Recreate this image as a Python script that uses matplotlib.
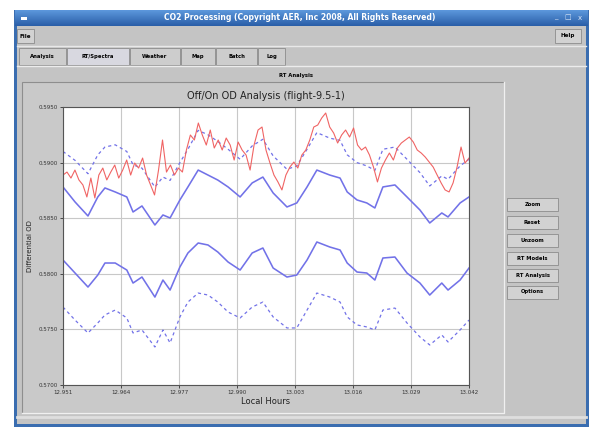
import numpy as np
import matplotlib
matplotlib.use("Agg")
import matplotlib.pyplot as plt
from matplotlib.patches import Rectangle
from matplotlib.colors import LinearSegmentedColormap

# ---- data (local hours / differential OD) ----
t_blue = [12.9510, 12.9537, 12.9566, 12.9588, 12.9604, 12.9627, 12.9653, 12.9667,
          12.9687, 12.9716, 12.9734, 12.9750, 12.9772, 12.9790, 12.9813, 12.9835,
          12.9857, 12.9880, 12.9907, 12.9934, 12.9958, 12.9981, 13.0012, 13.0034,
          13.0057, 13.0079, 13.0108, 13.0131, 13.0147, 13.0169, 13.0191, 13.0209,
          13.0227, 13.0254, 13.0281, 13.0310, 13.0332, 13.0359, 13.0373, 13.0400,
          13.0420]

off_upper = [0.58781, 0.58646, 0.58520, 0.58691, 0.58772, 0.58736, 0.58691, 0.58556,
             0.58610, 0.58439, 0.58529, 0.58502, 0.58664, 0.58781, 0.58933, 0.58888,
             0.58843, 0.58781, 0.58691, 0.58817, 0.58870, 0.58727, 0.58601, 0.58637,
             0.58781, 0.58933, 0.58888, 0.58861, 0.58736, 0.58664, 0.58637, 0.58592,
             0.58781, 0.58799, 0.58691, 0.58574, 0.58457, 0.58547, 0.58511, 0.58637,
             0.58691]

off_lower = [0.58124, 0.58007, 0.57881, 0.57989, 0.58097, 0.58097, 0.58034, 0.57917,
             0.57971, 0.57791, 0.57944, 0.57854, 0.58061, 0.58187, 0.58277, 0.58259,
             0.58196, 0.58106, 0.58034, 0.58187, 0.58232, 0.58052, 0.57971, 0.57989,
             0.58124, 0.58286, 0.58241, 0.58214, 0.58097, 0.58016, 0.58007, 0.57944,
             0.58142, 0.58151, 0.58007, 0.57917, 0.57809, 0.57917, 0.57854, 0.57944,
             0.58052]

on_upper = [0.5910, 0.5902, 0.5890, 0.5907, 0.5914, 0.5916, 0.5910, 0.5898,
            0.5895, 0.5878, 0.5887, 0.5884, 0.5900, 0.5912, 0.5929, 0.5925,
            0.5919, 0.5912, 0.5903, 0.5915, 0.5921, 0.5906, 0.5894, 0.5897,
            0.5912, 0.5927, 0.5922, 0.5920, 0.5907, 0.5900, 0.5897, 0.5893,
            0.5912, 0.5914, 0.5903, 0.5891, 0.5879, 0.5888, 0.5885, 0.5897,
            0.5903]

on_lower = [0.57701, 0.57584, 0.57468, 0.57558, 0.57630, 0.57674, 0.57603, 0.57468,
            0.57495, 0.57342, 0.57495, 0.57378, 0.57612, 0.57746, 0.57827, 0.57809,
            0.57746, 0.57656, 0.57603, 0.57701, 0.57746, 0.57612, 0.57513, 0.57513,
            0.57674, 0.57827, 0.57791, 0.57746, 0.57612, 0.57540, 0.57522, 0.57495,
            0.57674, 0.57692, 0.57558, 0.57432, 0.57360, 0.57450, 0.57387, 0.57495,
            0.57584]

measured = [0.58888, 0.58915, 0.58861, 0.58933, 0.58844, 0.58799, 0.58691, 0.58861,
            0.58682, 0.58888, 0.58951, 0.58844, 0.58915, 0.58978, 0.58861, 0.58933,
            0.59023, 0.58888, 0.58996, 0.58951, 0.59041, 0.58888, 0.58799, 0.58709,
            0.58933, 0.59203, 0.58915, 0.58978, 0.58888, 0.58951, 0.58915, 0.59113,
            0.59248, 0.59203, 0.59356, 0.59248, 0.59158, 0.59293, 0.59131, 0.59203,
            0.59113, 0.59221, 0.59158, 0.59023, 0.59185, 0.59113, 0.59068, 0.58933,
            0.59158, 0.59293, 0.59320, 0.59113, 0.58996, 0.58888, 0.58826, 0.58754,
            0.58888, 0.58960, 0.59005, 0.58951, 0.59068, 0.59113, 0.59203, 0.59320,
            0.59338, 0.59401, 0.59446, 0.59320, 0.59266, 0.59176, 0.59248, 0.59293,
            0.59230, 0.59311, 0.59158, 0.59113, 0.59140, 0.59068, 0.58960, 0.58826,
            0.58951, 0.59023, 0.59086, 0.59023, 0.59131, 0.59176, 0.59203, 0.59230,
            0.59185, 0.59113, 0.59086, 0.59050, 0.59005, 0.58960, 0.58888, 0.58817,
            0.58754, 0.58736, 0.58817, 0.58960, 0.59140, 0.58996, 0.59041]
t_red = np.linspace(12.951, 13.042, len(measured))

xticks = [12.951, 12.964, 12.977, 12.990, 13.003, 13.016, 13.029, 13.042]
yticks = [0.570, 0.575, 0.580, 0.585, 0.590, 0.595]

tabs = ["Analysis", "RT/Spectra", "Weather", "Map", "Batch", "Log"]
tab_x = [(19, 66), (67, 129), (130, 180), (181, 215), (216, 257), (258, 285)]
buttons = ["Zoom", "Reset", "Unzoom", "RT Models", "RT Analysis", "Options"]
button_y = [204, 222, 240, 258, 275, 292]

blue = "#7272e8"
red = "#f06464"
gray = "#c4c4c4"

fig = plt.figure(figsize=(5.93, 4.32), dpi=100)
fig.patch.set_facecolor("white")

# background axes in pixel coordinates for the window chrome
bg = fig.add_axes([0, 0, 1, 1])


def box(x0, y0, x1, y1, fc, ec="none", lw=0.8, z=1):
    bg.add_patch(Rectangle((x0, y0), x1 - x0, y1 - y0, facecolor=fc,
                           edgecolor=ec, linewidth=lw, zorder=z))


# window frame and body
box(14, 10, 589, 427, "#3a6db0")
box(17, 26, 586, 424, gray, z=2)

# title bar gradient
grad = np.linspace(0, 1, 32).reshape(-1, 1)
cm = LinearSegmentedColormap.from_list("tb", ["#5c98dc", "#2a5ea8"])
bg.imshow(grad, extent=(15, 588, 26, 10), aspect="auto", cmap=cm, zorder=3)
bg.text(300, 18, "CO2 Processing (Copyright AER, Inc 2008, All Rights Reserved)",
        ha="center", va="center", color="white", fontsize=5.5,
        fontweight="bold", zorder=4)
box(21, 17, 27, 19.5, "white", z=4)
for i, s in enumerate(["_", "\u25a1", "x"]):
    bg.text(556 + i * 12, 17.5, s, ha="center", va="center", color="#dce8f8",
            fontsize=5, zorder=4)

# menu bar
box(17, 29, 34, 43, "#d2d2d2", "#8c8c8c", 0.6, z=3)
bg.text(25.5, 36, "File", ha="center", va="center", fontsize=4,
        fontweight="bold", zorder=4)
box(555, 29, 581, 43, "#d2d2d2", "#8c8c8c", 0.6, z=3)
bg.text(568, 36, "Help", ha="center", va="center", fontsize=4,
        fontweight="bold", zorder=4)
bg.plot([17, 586], [46, 46], color="#e8e8e8", lw=1, zorder=3)

# tabs
for name, (x0, x1) in zip(tabs, tab_x):
    fc = "#d8d8e0" if name == "RT/Spectra" else "#cdcdcd"
    box(x0, 48, x1, 65, fc, "#8c8c8c", 0.6, z=3)
    bg.text((x0 + x1) / 2, 56.5, name, ha="center", va="center", fontsize=3.8,
            fontweight="bold", zorder=4)
bg.plot([17, 586], [65.5, 65.5], color="#ececec", lw=1, zorder=3)

bg.text(296, 75, "RT Analysis", ha="center", va="center", fontsize=3.8,
        fontweight="bold", zorder=4)

# plot panel
box(22, 82, 504, 413, "#c9c9c9", "#8e8e8e", 0.8, z=3)
bg.plot([504, 504, 22], [82, 413, 413], color="#f0f0f0", lw=1, zorder=4)
bg.plot([17, 586], [417, 417], color="#dedede", lw=2, zorder=3)

# right hand buttons
for name, yc in zip(buttons, button_y):
    box(507, yc - 6.5, 558, yc + 6.5, "#d2d2d2", "#8c8c8c", 0.6, z=3)
    bg.text(532.5, yc, name, ha="center", va="center", fontsize=3.8,
            fontweight="bold", zorder=4)

bg.set_xlim(0, 593)
bg.set_ylim(432, 0)
bg.axis("off")

# ---- the chart ----
ax = fig.add_axes([63 / 593, (432 - 385) / 432, 406 / 593, 278 / 432])
ax.set_facecolor("white")
ax.plot(t_blue, on_upper, color=blue, lw=0.9, ls=(0, (2.5, 2.5)))
ax.plot(t_blue, off_upper, color=blue, lw=1.15)
ax.plot(t_blue, off_lower, color=blue, lw=1.15)
ax.plot(t_blue, on_lower, color=blue, lw=0.9, ls=(0, (2.5, 2.5)))
ax.plot(t_red, measured, color=red, lw=0.8)

ax.set_xlim(xticks[0], xticks[-1])
ax.set_ylim(yticks[0], yticks[-1])
ax.set_xticks(xticks)
ax.set_xticklabels(["%.3f" % v for v in xticks])
ax.set_yticks(yticks)
ax.set_yticklabels(["%.4f" % v for v in yticks])
ax.tick_params(labelsize=4, length=2, width=0.6, pad=1.5, colors="#333333")
ax.grid(True, color="#c8c8c8", lw=0.8)
for s in ax.spines.values():
    s.set_color("#555555")
    s.set_linewidth(0.8)

ax.set_title("Off/On OD Analysis (flight-9.5-1)", fontsize=7, pad=6,
             color="#222222")
ax.set_xlabel("Local Hours", fontsize=6, labelpad=1.5, color="#222222")
ax.set_ylabel("Differential OD", fontsize=5, labelpad=4, color="#222222")

fig.savefig("out.png", dpi=100)
